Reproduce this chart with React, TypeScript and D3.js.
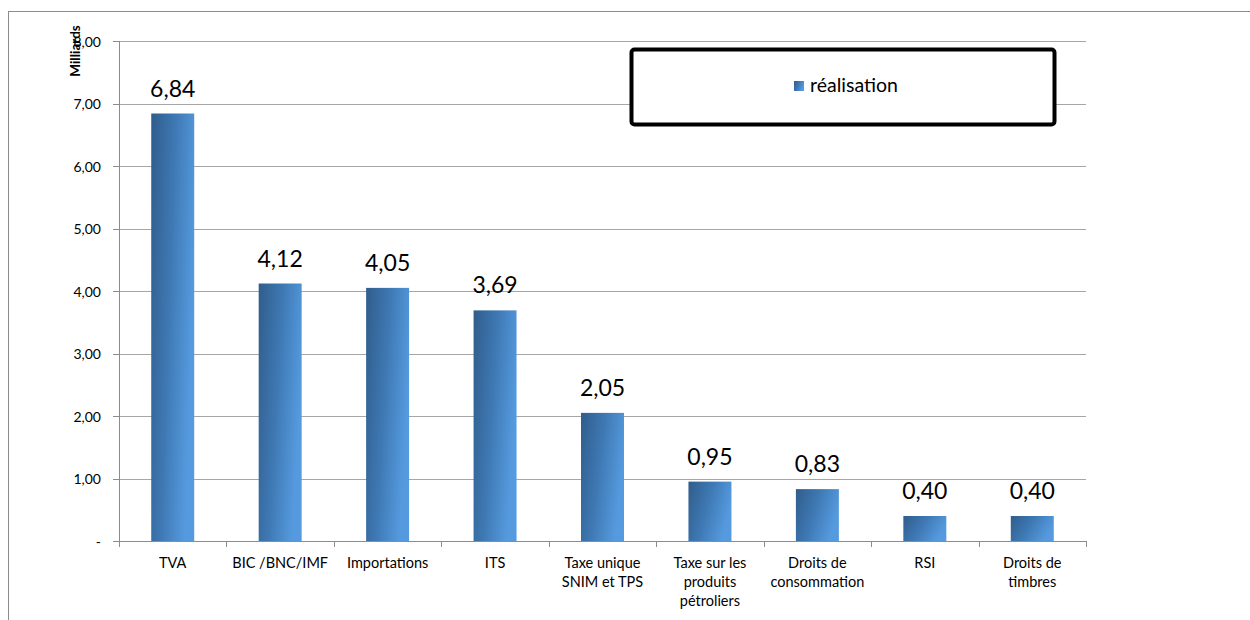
import React from "react";
import * as d3 from "d3";

const categories: string[][] = [
  ["TVA"],
  ["BIC /BNC/IMF"],
  ["Importations"],
  ["ITS"],
  ["Taxe unique", "SNIM et TPS"],
  ["Taxe sur les", "produits", "pétroliers"],
  ["Droits de", "consommation"],
  ["RSI"],
  ["Droits de", "timbres"],
];
const values: number[] = [6.84, 4.12, 4.05, 3.69, 2.05, 0.95, 0.83, 0.4, 0.4];
const yTicks: number[] = [0, 1, 2, 3, 4, 5, 6, 7, 8];
const seriesName = "réalisation";
const yTitle = "Milliards";

const W = 1250;
const H = 620;
const left = 119;
const right = 1086;
const top = 41;
const bottom = 541;
const font = "Lato, 'Open Sans', sans-serif";

const fmt = (v: number) => (v === 0 ? "-" : v.toFixed(2).replace(".", ","));

export default function App() {
  const idx = categories.map((_, i) => String(i));
  const x = d3.scaleBand<string>().domain(idx).range([left, right]).paddingInner(0).paddingOuter(0);
  const y = d3.scaleLinear().domain([0, 8]).range([bottom, top]);
  const bw = x.bandwidth() * 0.4;

  return (
    <svg
      width={W}
      height={H}
      style={{ position: "absolute", left: 0, top: 0, background: "#fff" }}
      fontFamily={font}
    >
      <defs>
        <linearGradient id="barGrad" x1="0" y1="0" x2="1" y2="0.35">
          <stop offset="0" stopColor="#305d8b" />
          <stop offset="0.5" stopColor="#3e78b3" />
          <stop offset="1" stopColor="#559ade" />
        </linearGradient>
      </defs>
      <rect x={8.5} y={11.5} width={W} height={H} fill="#fff" stroke="#8c8c8c" strokeWidth={1} />

      {/* gridlines */}
      {yTicks.map((t) => (
        <line
          key={"g" + t}
          x1={left}
          x2={right}
          y1={Math.round(y(t)) + 0.5}
          y2={Math.round(y(t)) + 0.5}
          stroke="#a6a6a6"
          strokeWidth={1}
        />
      ))}

      {/* y axis */}
      <line x1={left + 0.5} x2={left + 0.5} y1={top} y2={bottom + 6} stroke="#8c8c8c" />
      {yTicks.map((t) => (
        <g key={"yt" + t}>
          <line
            x1={left - 6}
            x2={left}
            y1={Math.round(y(t)) + 0.5}
            y2={Math.round(y(t)) + 0.5}
            stroke="#8c8c8c"
          />
          <text x={101} y={y(t) + 5.5} textAnchor="end" fontSize={14} fill="#000">
            {fmt(t)}
          </text>
        </g>
      ))}
      <text
        transform={`translate(80,51) rotate(-90)`}
        textAnchor="middle"
        fontSize={13.5}
        fontWeight="bold"
        fill="#000"
      >
        {yTitle}
      </text>

      {/* x axis */}
      <line x1={left} x2={right} y1={bottom + 0.5} y2={bottom + 0.5} stroke="#8c8c8c" />
      {idx.concat([String(idx.length)]).map((k, i) => {
        const xx = i < idx.length ? (x(k) as number) : right;
        return (
          <line
            key={"xt" + i}
            x1={Math.round(xx) + 0.5}
            x2={Math.round(xx) + 0.5}
            y1={bottom}
            y2={bottom + 6}
            stroke="#8c8c8c"
          />
        );
      })}

      {/* bars */}
      {values.map((v, i) => {
        const cx = (x(String(i)) as number) + x.bandwidth() / 2;
        return (
          <g key={"b" + i}>
            <rect x={cx - bw / 2} y={y(v)} width={bw} height={bottom - y(v)} fill="url(#barGrad)" />
            <text x={cx} y={y(v) - 17} textAnchor="middle" fontSize={23} fill="#000">
              {fmt(v)}
            </text>
          </g>
        );
      })}

      {/* x labels */}
      {categories.map((lines, i) => {
        const cx = (x(String(i)) as number) + x.bandwidth() / 2;
        return (
          <text key={"xl" + i} textAnchor="middle" fontSize={14.5} fill="#000">
            {lines.map((l, j) => (
              <tspan key={j} x={cx} y={568 + j * 19}>
                {l}
              </tspan>
            ))}
          </text>
        );
      })}

      {/* legend */}
      <rect x={631.5} y={49.5} width={423} height={75} rx={3} fill="#fff" stroke="#000" strokeWidth={4} />
      <rect x={794} y={81} width={10} height={10} fill="url(#barGrad)" />
      <text x={810} y={92} fontSize={19.5} fill="#000">
        {seriesName}
      </text>
    </svg>
  );
}
